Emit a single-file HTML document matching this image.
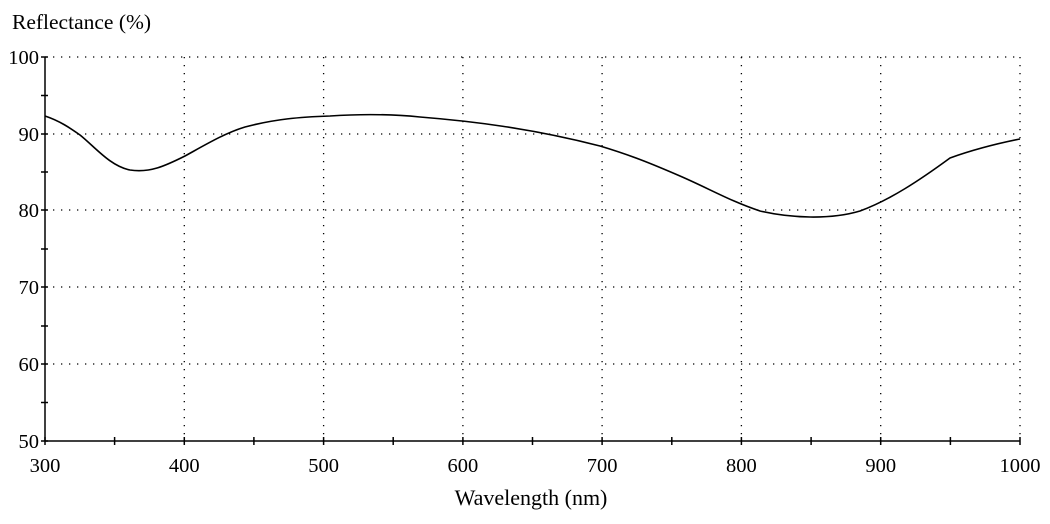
<!DOCTYPE html>
<html><head><meta charset="utf-8"><style>
html,body{margin:0;padding:0;background:#fff;}
svg{display:block;font-family:"Liberation Serif",serif;}
</style></head><body>
<svg width="1050" height="524" viewBox="0 0 1050 524" xmlns="http://www.w3.org/2000/svg">
<rect width="1050" height="524" fill="#fff"/>
<text x="12" y="29" font-size="21.5" fill="#000">Reflectance (%)</text>
<g stroke="#000" stroke-width="1.3" stroke-dasharray="1.3 6.7" fill="none">
<line x1="45" y1="57" x2="1020" y2="57"/>
<line x1="45" y1="134" x2="1020" y2="134"/>
<line x1="45" y1="210" x2="1020" y2="210"/>
<line x1="45" y1="287" x2="1020" y2="287"/>
<line x1="45" y1="364" x2="1020" y2="364"/>
<line x1="184.3" y1="57" x2="184.3" y2="441"/>
<line x1="323.6" y1="57" x2="323.6" y2="441"/>
<line x1="462.9" y1="57" x2="462.9" y2="441"/>
<line x1="602.1" y1="57" x2="602.1" y2="441"/>
<line x1="741.4" y1="57" x2="741.4" y2="441"/>
<line x1="880.7" y1="57" x2="880.7" y2="441"/>
<line x1="1020" y1="57" x2="1020" y2="441"/>
</g>
<g stroke="#000" stroke-width="1.5">
<line x1="45" y1="57" x2="45" y2="441"/>
<line x1="45" y1="441" x2="1020" y2="441"/>
<line x1="41" y1="57" x2="48" y2="57"/><line x1="41" y1="95.5" x2="48" y2="95.5"/>
<line x1="41" y1="134" x2="48" y2="134"/><line x1="41" y1="172" x2="48" y2="172"/>
<line x1="41" y1="210" x2="48" y2="210"/><line x1="41" y1="249" x2="48" y2="249"/>
<line x1="41" y1="287" x2="48" y2="287"/><line x1="41" y1="326" x2="48" y2="326"/>
<line x1="41" y1="364" x2="48" y2="364"/><line x1="41" y1="402.5" x2="48" y2="402.5"/>
<line x1="41" y1="441" x2="48" y2="441"/>
<line x1="45" y1="437" x2="45" y2="445"/><line x1="114.6" y1="437" x2="114.6" y2="445"/>
<line x1="184.3" y1="437" x2="184.3" y2="445"/><line x1="253.9" y1="437" x2="253.9" y2="445"/>
<line x1="323.6" y1="437" x2="323.6" y2="445"/><line x1="393.2" y1="437" x2="393.2" y2="445"/>
<line x1="462.9" y1="437" x2="462.9" y2="445"/><line x1="532.5" y1="437" x2="532.5" y2="445"/>
<line x1="602.1" y1="437" x2="602.1" y2="445"/><line x1="671.8" y1="437" x2="671.8" y2="445"/>
<line x1="741.4" y1="437" x2="741.4" y2="445"/><line x1="811.1" y1="437" x2="811.1" y2="445"/>
<line x1="880.7" y1="437" x2="880.7" y2="445"/><line x1="950.4" y1="437" x2="950.4" y2="445"/>
<line x1="1020" y1="437" x2="1020" y2="445"/>
</g>
<g font-size="20.5" fill="#000" text-anchor="end">
<text x="39" y="64">100</text><text x="39" y="141">90</text><text x="39" y="217">80</text>
<text x="39" y="294">70</text><text x="39" y="371">60</text><text x="39" y="448">50</text>
</g>
<g font-size="20.5" fill="#000" text-anchor="middle">
<text x="45" y="472">300</text><text x="184.3" y="472">400</text><text x="323.6" y="472">500</text>
<text x="462.9" y="472">600</text><text x="602.1" y="472">700</text><text x="741.4" y="472">800</text>
<text x="880.7" y="472">900</text><text x="1020" y="472">1000</text>
</g>
<text x="531" y="505" font-size="22" text-anchor="middle" fill="#000">Wavelength (nm)</text>
<path fill="none" stroke="#000" stroke-width="1.6" d="M45,116 C60,121 70,128 80,135 C95,147 110,166 130,170 C150,173 165,166 185,156 C205,145 225,133 245,127 C275,119 300,117 330,116 C360,114 390,114 420,117 C470,121 530,128 600,146 C630,155 650,163 680,176 C710,189 730,201 760,211 C790,218 830,220 860,211 C890,200 920,180 950,158 C975,149 1000,143 1020,139"/>
</svg>
</body></html>
